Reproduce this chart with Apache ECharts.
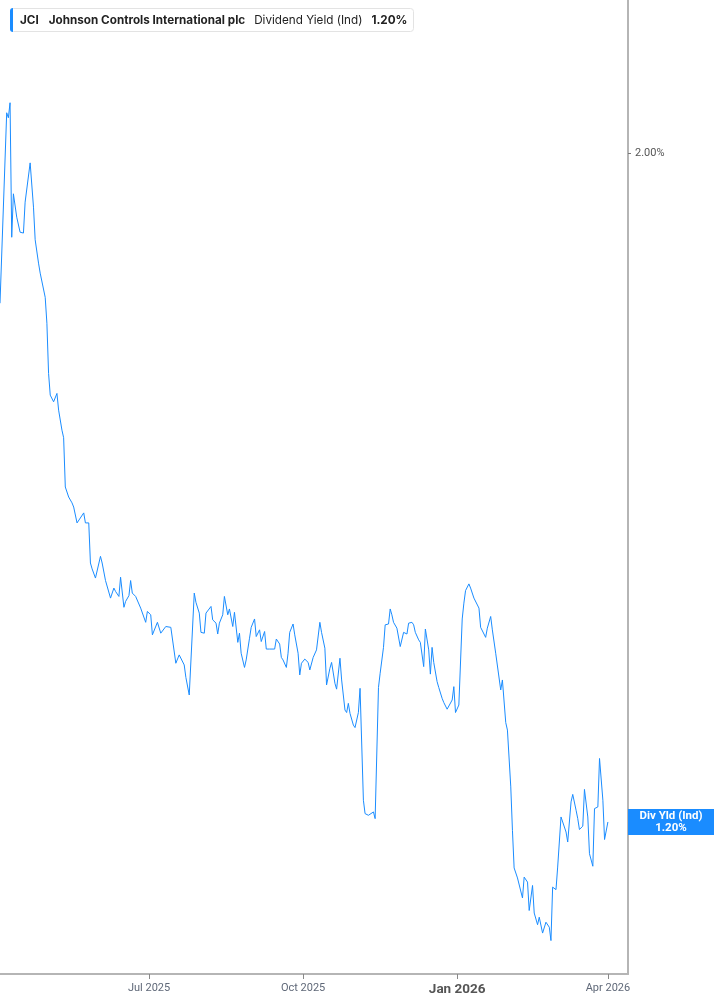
<!DOCTYPE html>
<html>
<head>
<meta charset="utf-8">
<script src="https://cdn.jsdelivr.net/npm/echarts@6/dist/echarts.min.js"></script>
<style>
html,body{margin:0;padding:0;background:#fff;overflow:hidden;}
#chart{width:717px;height:1005px;}
</style>
</head>
<body>
<div id="chart"></div>
<script>
const dates = [
'2025-04-03','2025-04-07','2025-04-08','2025-04-09','2025-04-10','2025-04-11','2025-04-13','2025-04-15','2025-04-17','2025-04-18',
'2025-04-19','2025-04-21','2025-04-23','2025-04-24','2025-04-26','2025-04-27','2025-04-28','2025-04-30','2025-05-01','2025-05-02',
'2025-05-03','2025-05-05','2025-05-07','2025-05-08','2025-05-10','2025-05-11','2025-05-12','2025-05-14','2025-05-16','2025-05-17',
'2025-05-19','2025-05-20','2025-05-23','2025-05-24','2025-05-26','2025-05-27','2025-05-28','2025-05-30','2025-06-02','2025-06-03',
'2025-06-05','2025-06-06','2025-06-08','2025-06-09','2025-06-10','2025-06-11','2025-06-13','2025-06-14','2025-06-16','2025-06-17',
'2025-06-19','2025-06-20','2025-06-21','2025-06-23','2025-06-24','2025-06-26','2025-06-29','2025-06-30','2025-07-02','2025-07-03',
'2025-07-06','2025-07-08','2025-07-11','2025-07-12','2025-07-14','2025-07-17','2025-07-18','2025-07-19','2025-07-20','2025-07-22',
'2025-07-23','2025-07-24','2025-07-25','2025-07-26','2025-07-28','2025-07-29','2025-07-31','2025-08-01','2025-08-03','2025-08-04',
'2025-08-05','2025-08-07','2025-08-08','2025-08-10','2025-08-11','2025-08-12','2025-08-14','2025-08-15','2025-08-17','2025-08-18',
'2025-08-20','2025-08-21','2025-08-23','2025-08-24','2025-08-25','2025-08-27','2025-08-28','2025-08-30','2025-08-31','2025-09-02',
'2025-09-03','2025-09-05','2025-09-06','2025-09-08','2025-09-09','2025-09-11','2025-09-12','2025-09-14','2025-09-15','2025-09-17',
'2025-09-18','2025-09-19','2025-09-21','2025-09-22','2025-09-23','2025-09-25','2025-09-26','2025-09-28','2025-09-29','2025-09-30',
'2025-10-02','2025-10-04','2025-10-05','2025-10-07','2025-10-08','2025-10-09','2025-10-11','2025-10-12','2025-10-14','2025-10-15',
'2025-10-17','2025-10-18','2025-10-20','2025-10-21','2025-10-23','2025-10-24','2025-10-26','2025-10-27','2025-10-28','2025-10-29',
'2025-10-31','2025-11-01','2025-11-03','2025-11-04','2025-11-06','2025-11-07','2025-11-09','2025-11-10','2025-11-12','2025-11-13',
'2025-11-15','2025-11-16','2025-11-18','2025-11-19','2025-11-21','2025-11-22','2025-11-23','2025-11-24','2025-11-26','2025-11-28',
'2025-11-29','2025-11-30','2025-12-02','2025-12-03','2025-12-05','2025-12-06','2025-12-07','2025-12-09','2025-12-10','2025-12-12',
'2025-12-13','2025-12-15','2025-12-16','2025-12-17','2025-12-18','2025-12-20','2025-12-21','2025-12-23','2025-12-24','2025-12-26',
'2025-12-27','2025-12-29','2025-12-30','2025-12-31','2026-01-02','2026-01-04','2026-01-05','2026-01-06','2026-01-08','2026-01-09',
'2026-01-11','2026-01-12','2026-01-14','2026-01-15','2026-01-16','2026-01-18','2026-01-19','2026-01-21','2026-01-22','2026-01-24',
'2026-01-25','2026-01-27','2026-01-28','2026-01-30','2026-01-31','2026-02-02','2026-02-03','2026-02-04','2026-02-06','2026-02-07',
'2026-02-09','2026-02-10','2026-02-12','2026-02-13','2026-02-15','2026-02-16','2026-02-18','2026-02-19','2026-02-21','2026-02-22',
'2026-02-23','2026-02-25','2026-02-26','2026-02-27','2026-03-01','2026-03-02','2026-03-04','2026-03-05','2026-03-07','2026-03-08',
'2026-03-10','2026-03-11','2026-03-13','2026-03-14','2026-03-15','2026-03-17','2026-03-18','2026-03-20','2026-03-21','2026-03-23',
'2026-03-24','2026-03-26','2026-03-27','2026-03-29','2026-03-30','2026-04-01'
];
const yields = [
1.821,2.049,2.043,2.061,1.900,1.952,1.924,1.906,1.905,1.942,
1.941,1.989,1.936,1.897,1.869,1.857,1.855,1.828,1.797,1.737,
1.711,1.703,1.713,1.693,1.669,1.660,1.601,1.589,1.582,1.577,
1.558,1.559,1.570,1.558,1.558,1.510,1.503,1.492,1.518,1.510,
1.489,1.488,1.468,1.469,1.480,1.476,1.470,1.493,1.457,1.464,
1.471,1.489,1.474,1.470,1.471,1.456,1.439,1.452,1.448,1.424,
1.439,1.426,1.434,1.432,1.433,1.390,1.390,1.400,1.399,1.388,
1.373,1.372,1.352,1.354,1.474,1.463,1.450,1.427,1.426,1.450,
1.452,1.458,1.442,1.438,1.425,1.438,1.448,1.470,1.448,1.455,
1.434,1.451,1.415,1.426,1.402,1.385,1.394,1.420,1.433,1.443,
1.422,1.430,1.416,1.428,1.407,1.407,1.409,1.407,1.419,1.413,
1.397,1.394,1.385,1.402,1.427,1.437,1.424,1.402,1.376,1.390,
1.395,1.391,1.382,1.397,1.397,1.406,1.439,1.427,1.408,1.364,
1.384,1.391,1.366,1.359,1.396,1.370,1.334,1.331,1.342,1.330,
1.316,1.313,1.331,1.360,1.226,1.210,1.208,1.206,1.212,1.204,
1.361,1.378,1.409,1.436,1.437,1.455,1.448,1.439,1.432,1.410,
1.410,1.427,1.425,1.438,1.439,1.436,1.427,1.418,1.415,1.386,
1.431,1.406,1.377,1.409,1.391,1.368,1.361,1.348,1.343,1.335,
1.336,1.346,1.362,1.331,1.340,1.443,1.462,1.477,1.485,1.480,
1.468,1.467,1.456,1.433,1.433,1.421,1.432,1.446,1.430,1.402,
1.403,1.358,1.370,1.319,1.310,1.242,1.190,1.145,1.133,1.133,
1.109,1.134,1.128,1.094,1.124,1.091,1.077,1.086,1.067,1.068,
1.080,1.074,1.058,1.122,1.119,1.146,1.206,1.200,1.188,1.176,
1.224,1.233,1.214,1.204,1.191,1.195,1.239,1.206,1.162,1.147,
1.216,1.218,1.276,1.226,1.179,1.200
];
const xTickDates = ['2025-07-01','2025-10-01','2026-01-01','2026-04-01'];
const xTickLabels = ['Jul 2025','Oct 2025','Jan 2026','Apr 2026'];
const yTickValues = [2.0];
const ticker = 'JCI';
const company = 'Johnson Controls International plc';
const metric = 'Dividend Yield (Ind)';
const shortMetric = 'Div Yld (Ind)';

const toTs = d => new Date(d + 'T00:00:00').getTime();
const seriesData = dates.map((d, i) => [toTs(d), yields[i]]);
const lastVal = yields[yields.length - 1];
const xTickTs = xTickDates.map(toTs);
const BLUE = '#1a8cff';

const chart = echarts.init(document.getElementById('chart'), null, { width: 717, height: 1005 });
chart.setOption({
  animation: false,
  backgroundColor: '#fff',
  title: {
    left: 10, top: 8, padding: [0, 6, 0, 0],
    backgroundColor: '#fff', borderColor: '#e3e3e3', borderWidth: 1, borderRadius: 3,
    text: '{bar|}{t|' + ticker + '}{c|' + company + '}{m|' + metric + '}{v|' + lastVal.toFixed(2) + '%}',
    textStyle: {
      rich: {
        bar: { width: 3, height: 24, backgroundColor: BLUE, borderRadius: [3,0,0,3] },
        t: { fontFamily: 'Inter', fontSize: 11.7, fontWeight: 'bold', color: '#222', padding: [0,0,0,7] },
        c: { fontFamily: 'Inter', fontSize: 11.7, fontWeight: 'bold', color: '#222', padding: [0,0,0,10] },
        m: { fontFamily: 'Inter', fontSize: 11.7, fontWeight: 'normal', color: '#222', padding: [0,0,0,9] },
        v: { fontFamily: 'Inter', fontSize: 11.7, fontWeight: 'bold', color: '#222', padding: [0,0,0,9] }
      }
    }
  },
  grid: { left: 0, right: 85, top: 0, bottom: 31, containLabel: false },
  xAxis: {
    type: 'value',
    min: toTs('2025-04-03'),
    max: toTs('2026-04-13'),
    axisLine: { show: true, lineStyle: { color: '#b5b5b5', width: 2 } },
    axisTick: { show: true, customValues: xTickTs, length: 5, lineStyle: { color: '#888', width: 1 } },
    splitLine: { show: false },
    axisLabel: {
      customValues: xTickTs,
      margin: 9,
      fontFamily: 'Roboto', fontSize: 11, color: '#5f6878',
      formatter: function (v) {
        const i = xTickTs.indexOf(v);
        const t = i >= 0 ? xTickLabels[i] : '';
        return t.indexOf('Jan') === 0 ? '{j|' + t + '}' : t;
      },
      rich: { j: { fontFamily: 'Roboto', fontSize: 13.5, fontWeight: 'bold', color: '#555' } }
    }
  },
  yAxis: [{
    type: 'value',
    position: 'right',
    min: 1.018, max: 2.184,
    axisLine: { show: true, lineStyle: { color: '#b5b5b5', width: 2 } },
    axisTick: { show: true, customValues: yTickValues, length: 3, lineStyle: { color: '#777', width: 1 } },
    splitLine: { show: false },
    axisLabel: {
      customValues: yTickValues, margin: 7,
      fontFamily: 'Roboto', fontSize: 11, color: '#555',
      formatter: v => v.toFixed(2) + '%'
    }
  }, {
    type: 'value',
    position: 'right',
    min: 1.018, max: 2.184,
    axisLine: { show: false }, axisTick: { show: false }, splitLine: { show: false },
    axisLabel: {
      customValues: [lastVal], margin: 43, align: 'center',
      width: 86, backgroundColor: BLUE, color: '#fff',
      fontFamily: 'Roboto', fontSize: 11.5, fontWeight: 'bold', lineHeight: 12, padding: [1, 0, 1, 0],
      formatter: v => shortMetric + '\n' + v.toFixed(2) + '%'
    }
  }],
  series: [{
    type: 'line',
    data: seriesData,
    showSymbol: false,
    symbol: 'none',
    lineStyle: { color: BLUE, width: 1 },
    itemStyle: { color: BLUE }
  }]
});
</script>
</body>
</html>
